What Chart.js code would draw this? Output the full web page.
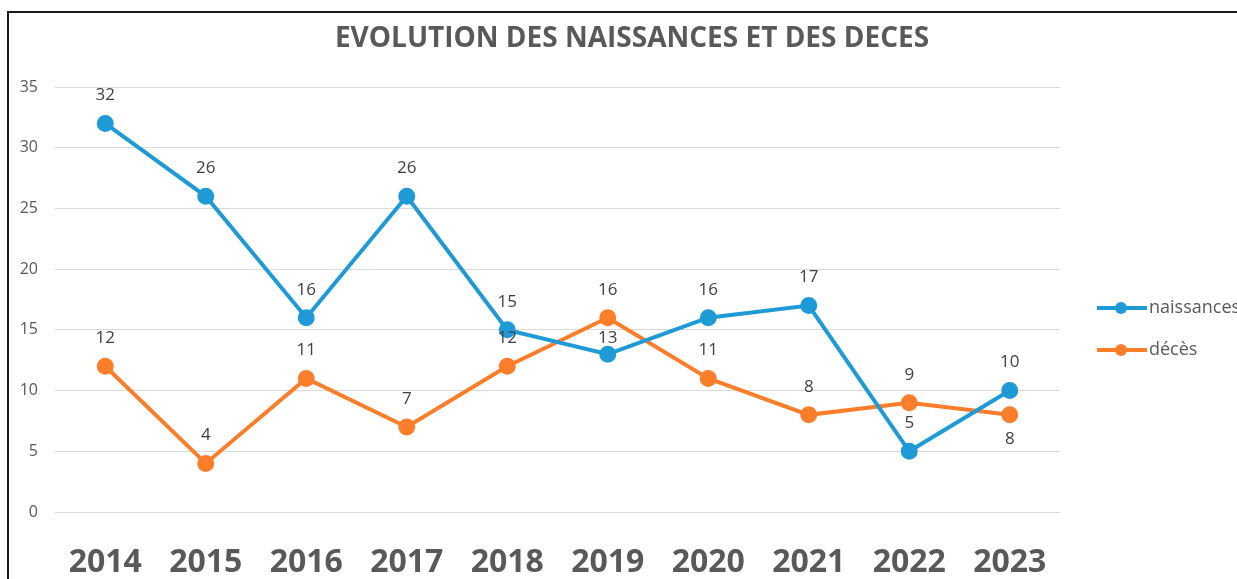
<!DOCTYPE html>
<html>
<head>
<meta charset="utf-8">
<script src="https://cdn.jsdelivr.net/npm/chart.js@4.4.0/dist/chart.umd.min.js"></script>
<style>
  html, body { margin: 0; padding: 0; background: #fff; }
  #wrap { width: 1237px; height: 579px; }
</style>
</head>
<body>
<div id="wrap"><canvas id="chartNaissances"></canvas></div>
<script>
// donnees
var annees = ['2014', '2015', '2016', '2017', '2018', '2019', '2020', '2021', '2022', '2023'];
var naissances = [32, 26, 16, 26, 15, 13, 16, 17, 5, 10];
var deces = [12, 4, 11, 7, 12, 16, 11, 8, 9, 8];
var yTicks = [0, 5, 10, 15, 20, 25, 30, 35];
var titre = 'EVOLUTION DES NAISSANCES ET DES DECES';

var bleu = '#1E9BD7';
var orange = '#FD7E2A';
var gris = '#595959';

// decalage vertical des etiquettes (px), par defaut -28 = au dessus du point
var decalagesEtiquettes = [
  [-28, -28, -28, -28, -28, -16, -28, -28, -28, -28],
  [-28, -28, -28, -28, -28, -28, -28, -28, -28, 24]
];

// cadre noir + titre centre sur toute la zone (comme Excel)
var cadrePlugin = {
  id: 'cadre',
  afterDraw: function(chart) {
    var ctx = chart.ctx;
    ctx.save();
    ctx.strokeStyle = '#1a1a1a';
    ctx.lineWidth = 2;
    ctx.beginPath();
    ctx.moveTo(1237, 12);
    ctx.lineTo(8, 12);
    ctx.lineTo(8, 579);
    ctx.stroke();
    ctx.font = 'bold 28px "Open Sans"';
    ctx.fillStyle = gris;
    ctx.textAlign = 'center';
    ctx.textBaseline = 'middle';
    ctx.fillText(titre, 632, 39);
    ctx.restore();
  }
};

// etiquettes de valeurs pres des points
var etiquettesPlugin = {
  id: 'etiquettes',
  afterDatasetsDraw: function(chart) {
    var ctx = chart.ctx;
    ctx.save();
    ctx.font = '17px "Open Sans"';
    ctx.fillStyle = '#404040';
    ctx.textAlign = 'center';
    ctx.textBaseline = 'middle';
    chart.data.datasets.forEach(function(ds, i) {
      var meta = chart.getDatasetMeta(i);
      meta.data.forEach(function(pt, j) {
        ctx.fillText(ds.data[j], pt.x, pt.y + decalagesEtiquettes[i][j]);
      });
    });
    ctx.restore();
  }
};

// legende a droite, ligne + rond comme dans Excel
var legendePlugin = {
  id: 'legende',
  afterDraw: function(chart) {
    var ctx = chart.ctx;
    var x0 = chart.chartArea.right + 37;
    var y0 = 308;
    ctx.save();
    ctx.font = '18px "Open Sans"';
    ctx.textBaseline = 'middle';
    chart.data.datasets.forEach(function(ds, i) {
      var y = y0 + i * 42;
      ctx.strokeStyle = ds.borderColor;
      ctx.lineWidth = 4;
      ctx.beginPath();
      ctx.moveTo(x0, y);
      ctx.lineTo(x0 + 50, y);
      ctx.stroke();
      ctx.fillStyle = ds.borderColor;
      ctx.beginPath();
      ctx.arc(x0 + 24, y, 6, 0, Math.PI * 2);
      ctx.fill();
      ctx.fillStyle = gris;
      ctx.fillText(ds.label, x0 + 52, y);
    });
    ctx.restore();
  }
};

var ctx = document.getElementById('chartNaissances').getContext('2d');
var chart = new Chart(ctx, {
  type: 'line',
  data: {
    labels: annees,
    datasets: [{
      label: 'naissances',
      data: naissances,
      borderColor: bleu,
      backgroundColor: bleu,
      borderWidth: 4,
      pointRadius: 6.5,
      pointHoverRadius: 6.5,
      tension: 0
    }, {
      label: 'décès',
      data: deces,
      borderColor: orange,
      backgroundColor: orange,
      borderWidth: 4,
      pointRadius: 6.5,
      pointHoverRadius: 6.5,
      tension: 0
    }]
  },
  options: {
    responsive: true,
    maintainAspectRatio: false,
    animation: false,
    layout: { padding: { left: 7, right: 177, top: 87, bottom: 0 } },
    plugins: {
      legend: { display: false },
      tooltip: { enabled: false },
      title: { display: false }
    },
    scales: {
      x: {
        offset: true,
        grid: { display: false, drawTicks: false },
        border: { display: false },
        ticks: {
          color: gris,
          padding: 32,
          font: { family: 'Open Sans', size: 32, weight: 'bold' }
        },
        afterFit: function(scale) { scale.height = 67; }
      },
      y: {
        min: 0,
        max: 35,
        afterBuildTicks: function(scale) {
          scale.ticks = yTicks.map(function(v) { return { value: v }; });
        },
        grid: { color: '#d9d9d9', lineWidth: 1, drawTicks: false },
        border: { display: false },
        ticks: {
          color: gris,
          padding: 17,
          font: { family: 'Open Sans', size: 16 }
        },
        afterFit: function(scale) { scale.width = 48; }
      }
    }
  },
  plugins: [cadrePlugin, etiquettesPlugin, legendePlugin]
});
</script>
</body>
</html>
